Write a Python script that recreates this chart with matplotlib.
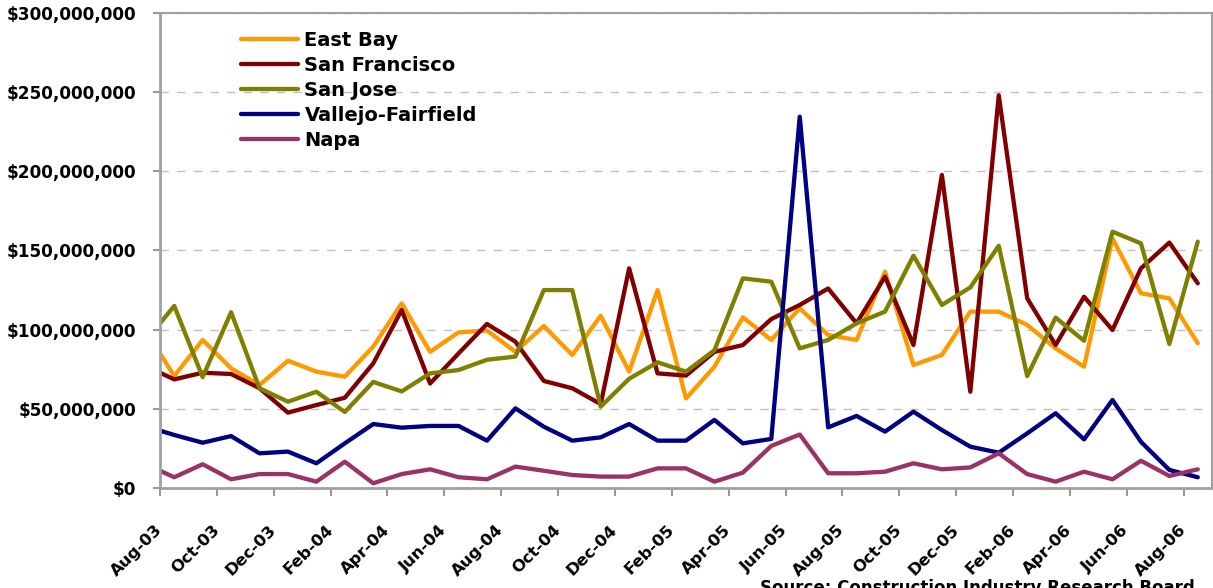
import numpy as np
import matplotlib
matplotlib.use('Agg')
import matplotlib.pyplot as plt
from matplotlib.ticker import FuncFormatter, MultipleLocator

## monthly permit values, millions of dollars (Jul-03 .. Aug-06)
months = ['Jul-03', 'Aug-03', 'Sep-03', 'Oct-03', 'Nov-03', 'Dec-03', 'Jan-04', 'Feb-04',
          'Mar-04', 'Apr-04', 'May-04', 'Jun-04', 'Jul-04', 'Aug-04', 'Sep-04', 'Oct-04',
          'Nov-04', 'Dec-04', 'Jan-05', 'Feb-05', 'Mar-05', 'Apr-05', 'May-05', 'Jun-05',
          'Jul-05', 'Aug-05', 'Sep-05', 'Oct-05', 'Nov-05', 'Dec-05', 'Jan-06', 'Feb-06',
          'Mar-06', 'Apr-06', 'May-06', 'Jun-06', 'Jul-06', 'Aug-06']

east_bay = [99.3, 70.7, 93.5, 75.6, 65.0, 80.4, 73.5, 70.3, 89.3, 116.6, 86.0, 98.3, 99.4,
            86.0, 102.3, 84.0, 108.8, 73.5, 125.0, 56.6, 76.6, 107.8, 93.5, 113.5, 96.6,
            93.5, 136.6, 77.7, 84.0, 111.4, 111.4, 103.0, 88.2, 76.6, 157.7, 123.0, 119.8, 91.4]
san_francisco = [77.0, 68.6, 72.8, 72.0, 63.0, 47.6, 52.4, 57.0, 78.7, 112.4, 66.0, 85.0, 103.6,
                 92.4, 67.6, 63.0, 53.0, 138.7, 72.4, 71.0, 86.0, 90.3, 106.7, 115.6, 126.0,
                 104.0, 133.5, 90.3, 197.7, 60.8, 248.0, 119.8, 90.3, 120.8, 99.8, 138.7, 155.0, 129.3]
san_jose = [93.0, 115.0, 70.0, 111.0, 63.0, 54.5, 60.8, 48.0, 67.0, 61.0, 72.4, 74.5, 81.0,
            83.0, 125.0, 125.0, 51.4, 69.0, 79.4, 73.5, 87.0, 132.4, 130.3, 88.2, 93.5,
            104.0, 111.4, 146.7, 115.6, 126.7, 153.0, 70.7, 107.6, 93.0, 161.9, 154.5, 91.0, 155.6]
vallejo = [38.9, 33.5, 28.6, 32.8, 21.9, 23.0, 15.6, 28.2, 40.4, 38.1, 39.2, 39.2, 29.9,
           50.3, 38.7, 29.9, 32.0, 40.4, 29.9, 29.9, 43.0, 28.2, 31.0, 234.5, 38.3,
           45.5, 35.6, 48.2, 36.6, 26.1, 22.3, 34.5, 47.2, 30.7, 55.6, 29.2, 11.4, 6.8]
napa = [15.0, 6.8, 15.0, 5.5, 8.8, 8.8, 4.0, 16.6, 3.0, 8.8, 11.8, 6.8, 5.5,
        13.5, 10.9, 8.2, 7.2, 7.2, 12.4, 12.4, 4.0, 9.7, 26.6, 33.8, 9.3,
        9.3, 10.3, 15.6, 11.8, 13.0, 21.9, 8.8, 4.0, 10.3, 5.5, 17.2, 7.6, 11.8]

tick_labels = ['Aug-03', 'Oct-03', 'Dec-03', 'Feb-04', 'Apr-04', 'Jun-04', 'Aug-04',
               'Oct-04', 'Dec-04', 'Feb-05', 'Apr-05', 'Jun-05', 'Aug-05', 'Oct-05',
               'Dec-05', 'Feb-06', 'Apr-06', 'Jun-06', 'Aug-06']

series = [('East Bay', east_bay, '#FF9900'),
          ('San Francisco', san_francisco, '#800000'),
          ('San Jose', san_jose, '#808000'),
          ('Vallejo-Fairfield', vallejo, '#000080'),
          ('Napa', napa, '#993366')]

fig = plt.figure(figsize=(12.13, 5.88), dpi=100)
ax = fig.add_axes([160/1213, 1-488/588, 1052/1213, 475/588])

x = np.arange(len(months))
for name, vals, col in series:
    ax.plot(x, vals, color=col, lw=3.1, label=name, solid_capstyle='round')

ax.set_xlim(0.5, 37.5)
ax.set_ylim(0, 300)
ax.yaxis.set_major_locator(MultipleLocator(50))
ax.yaxis.set_major_formatter(FuncFormatter(lambda v, p: '${:,.0f}'.format(v*1e6)))

## ticks sit half a month before each labelled point
ax.set_xticks([months.index(t) - 0.5 for t in tick_labels])
ax.set_xticklabels(tick_labels, rotation=45, ha='right', va='center',
                   rotation_mode='anchor', fontsize=11.8, fontweight='bold')
for lab in ax.get_yticklabels():
    lab.set_fontweight('bold')
    lab.set_fontsize(12.2)

ax.tick_params(axis='x', length=5.5, width=1.5, color='#999999', pad=23)
ax.tick_params(axis='y', length=5, width=1.5, color='#999999', pad=12)

ax.grid(axis='y', color='#c0c0c0', linestyle=(0, (6, 6)), lw=1)
ax.set_axisbelow(True)
for s in ax.spines.values():
    s.set_color('#a0a0a0')
    s.set_linewidth(1.5)
ax.spines['left'].set_linewidth(2)
ax.spines['bottom'].set_linewidth(2)

leg = ax.legend(loc='upper left', bbox_to_anchor=(0.068, 0.982), frameon=False,
                handlelength=2.9, handletextpad=0.35, labelspacing=0.3, borderpad=0,
                prop={'weight': 'bold', 'size': 14})

fig.text(760/1213, 1-579/588, 'Source: Construction Industry Research Board',
         fontsize=12, fontweight='bold', va='top', ha='left')

fig.savefig('out.png', dpi=100)
